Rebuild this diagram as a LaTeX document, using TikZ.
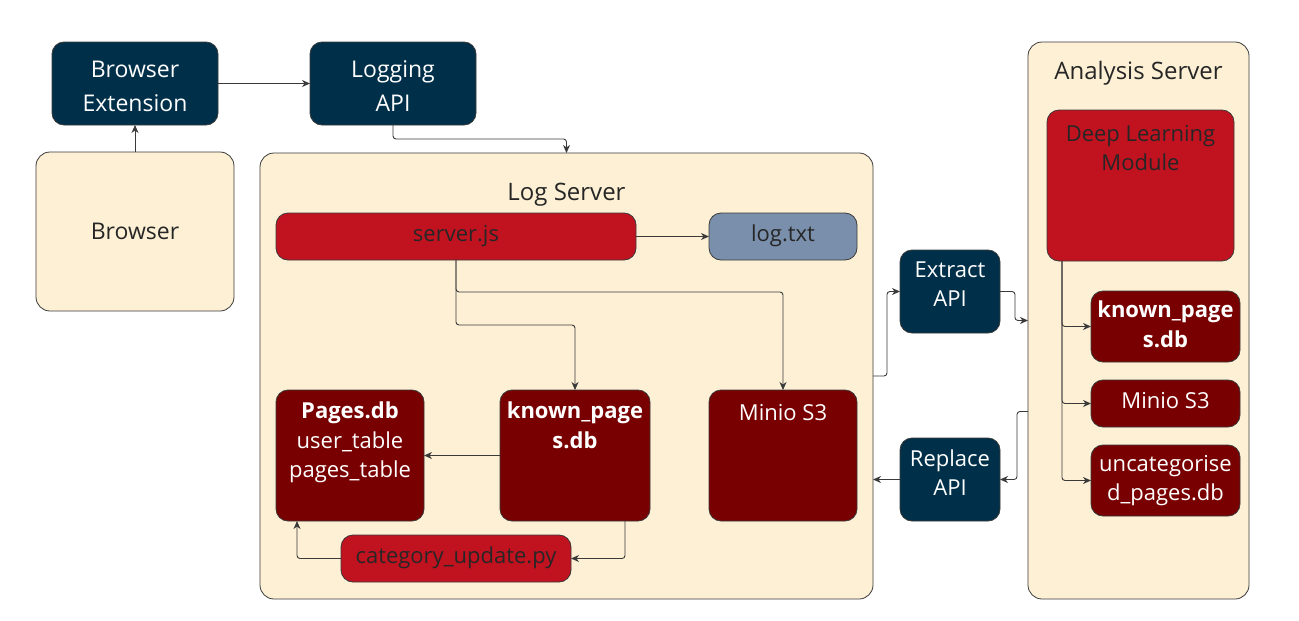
\documentclass[tikz,border=0pt]{standalone}
\usepackage{fontspec}
\setmainfont{Open Sans}
\usepackage{tikz}
\usetikzlibrary{positioning,arrows.meta,calc}
\definecolor{navy}{HTML}{003049}
\definecolor{crimson}{HTML}{C1121F}
\definecolor{maroon}{HTML}{780000}
\definecolor{cream}{HTML}{FDF0D5}
\definecolor{slate}{HTML}{7A8FAB}
\definecolor{wire}{HTML}{3A3A3A}

\begin{document}
\begin{tikzpicture}[
      x=1pt, y=-1pt,
      box/.style={
        shape=rectangle,
        inner sep=0pt, outer sep=0pt,
        rounded corners=12pt,
        draw=wire,
        line width=0.8pt,
        align=center,
        font=\fontsize{22}{29.5}\selectfont,
      },
      api/.style={box, fill=navy, text=white, font=\fontsize{23}{33}\selectfont},
      group/.style={box, fill=cream, text=black!85, rounded corners=14pt},
      prog/.style={box, fill=crimson, text=black!85},
      store/.style={box, fill=maroon, text=white},
      note/.style={inner sep=0pt, align=center, font=\fontsize{22}{29.5}\selectfont},
      link/.style={-{Stealth[length=8pt,width=7pt,inset=2.5pt]}, draw=wire, line width=0.9pt, rounded corners=3pt},
    ]
      \useasboundingbox (0,0) rectangle (1299,621);
      \node[api, minimum width=166, minimum height=83] (bext) at (135,83.5) {\rule{0pt}{22.5pt}Browser\\[1pt]Extension};
      \node[api, minimum width=166, minimum height=83] (logapi) at (393,83.5) {\rule{0pt}{22.5pt}Logging\\[1pt]API};
      \node[group, minimum width=198, minimum height=159, font=\fontsize{23}{33}\selectfont] (browser) at (135,231.5) {\raisebox{-2pt}{Browser}};

      \node[group, minimum width=613, minimum height=446] (logsrv) at (566.5,376) {};
      \node[note, text=black!85, font=\fontsize{24}{33}\selectfont, below=30pt of logsrv.north] (logsrvtxt) {Log Server};
      \node[prog, minimum width=360, minimum height=47] (serverjs) at (456,236.5) {\raisebox{6pt}{server.js}};
      \node[box, fill=slate, text=black!85, minimum width=148, minimum height=47] (logtxt) at (783,236.5) {\raisebox{6pt}{log.txt}};
      \node[store, minimum width=148, minimum height=131] (pagesdb) at (350,455.5) {};
      \node[note, text=white, below=12pt of pagesdb.north] (pagestxt) {\textbf{Pages.db}\\user\_table\\pages\_table};
      \node[store, minimum width=150, minimum height=131] (knowndb) at (575,455.5) {};
      \node[note, text=white, below=12pt of knowndb.north] (knowntxt) {\textbf{known\_page}\\\textbf{s.db}};
      \node[store, minimum width=148, minimum height=131] (minio) at (783,455.5) {};
      \node[note, text=white, below=14pt of minio.north] (miniotxt) {Minio S3};
      \node[prog, minimum width=230, minimum height=47] (catupd) at (456,558.5) {\raisebox{6pt}{category\_update.py}};

      \node[api, minimum width=100, minimum height=83, font=\fontsize{22}{29}\selectfont] (extract) at (950,291.5) {Extract\\\raisebox{14pt}{}API\raisebox{-14pt}{}};
      \node[api, minimum width=100, minimum height=83, font=\fontsize{22}{29}\selectfont] (replace) at (950,479.5) {Replace\\\raisebox{14pt}{}API\raisebox{-14pt}{}};

      \node[group, minimum width=221, minimum height=557] (anasrv) at (1138.5,320.5) {};
      \node[note, text=black!85, font=\fontsize{24}{33}\selectfont, below=19pt of anasrv.north] (anasrvtxt) {Analysis Server};
      \node[prog, minimum width=187, minimum height=151] (dlm) at (1140.5,185.5) {};
      \node[note, text=black!85, below=15pt of dlm.north] (dlmtxt) {Deep Learning\\Module};
      \node[store, minimum width=149, minimum height=71] (known2) at (1165.5,326.5) {\textbf{known\_page}\\\textbf{s.db}\raisebox{-5pt}{}};
      \node[store, minimum width=149, minimum height=47] (minio2) at (1165.5,403.5) {\raisebox{7pt}{Minio S3}};
      \node[store, minimum width=149, minimum height=71] (uncat) at (1165.5,480.5) {uncategorise\\d\_pages.db};

      \draw[link] (browser) -- (bext);
      \draw[link] (bext) -- (logapi);
      \draw[link] (logapi.south) -- ++(0,14) -| (logsrv.north);
      \draw[link] (serverjs) -- (logtxt);
      \draw[link] (serverjs.south) -- ++(0,65) -| (knowndb.north);
      \draw[link] (serverjs.south) -- ++(0,32) -| (minio.north);
      \draw[link] (knowndb) -- (pagesdb);
      \draw[link] ([xshift=50]knowndb.south) |- (catupd.east);
      \draw[link] (catupd.west) -| ([xshift=-53]pagesdb.south);
      \draw[link] (logsrv.east) -- ++(14,0) |- (extract.west);
      \draw[link] (extract.east) -- ++(15,0) |- (anasrv.west);
      \draw[link] ([yshift=-91]anasrv.west) -- ++(-11,0) |- (replace.east);
      \draw[link] (replace.west) -- (replace.west -| logsrv.east);
      \draw[link] ([xshift=-78.5]dlm.south) |- (known2.west);
      \draw[link] ([xshift=-78.5]dlm.south) |- (minio2.west);
      \draw[link] ([xshift=-78.5]dlm.south) |- (uncat.west);
    \end{tikzpicture}
\end{document}
